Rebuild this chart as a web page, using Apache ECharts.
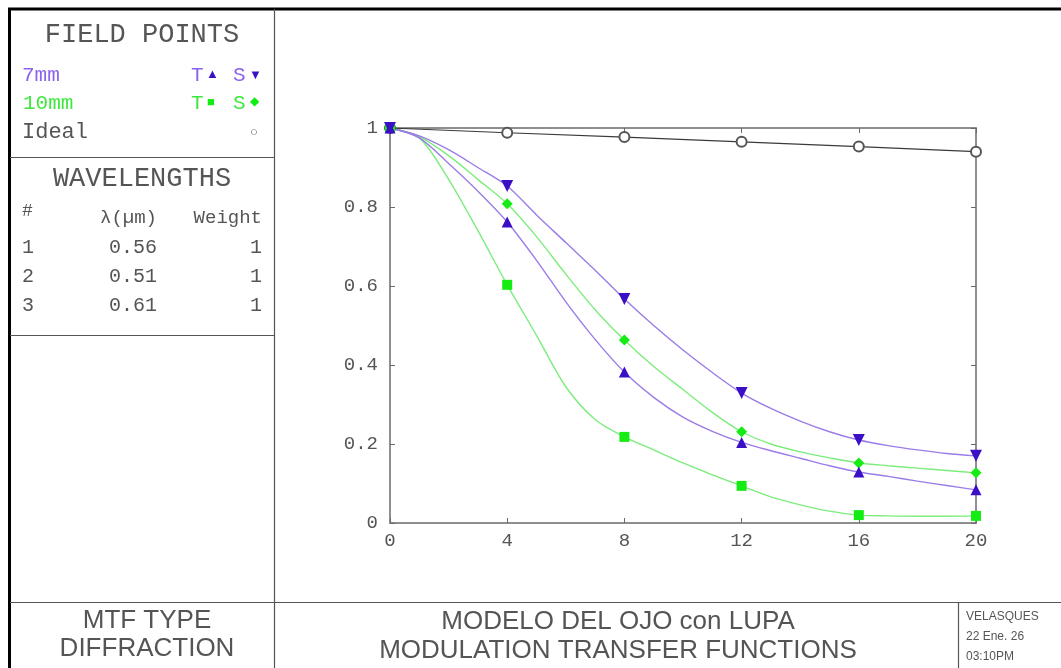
<!DOCTYPE html>
<html>
<head>
<meta charset="utf-8">
<script src="https://cdn.jsdelivr.net/npm/echarts@6/dist/echarts.min.js"></script>
<style>
  html, body { margin: 0; padding: 0; background: #fff; }
  #chart { width: 1061px; height: 668px; }
</style>
</head>
<body>
<div id="chart"></div>
<script>
// Spatial frequency (cycles/mm) sampled along the MTF curves
const frequencies = [0, 1, 2, 3, 4, 5, 6, 7, 8, 9, 10, 11, 12, 13, 14, 15, 16, 17, 18, 19, 20];
const xTicks = [0, 4, 8, 12, 16, 20];
const yTicks = [0, 0.2, 0.4, 0.6, 0.8, 1];

// Field 7 mm: tangential / sagittal modulation
const tan7mm = [1, 0.975, 0.91, 0.84, 0.762, 0.665, 0.56, 0.465, 0.382, 0.318, 0.268, 0.232, 0.204, 0.183, 0.164, 0.145, 0.129, 0.118, 0.106, 0.095, 0.084];
const sag7mm = [1, 0.98, 0.945, 0.9, 0.853, 0.78, 0.71, 0.64, 0.567, 0.5, 0.438, 0.381, 0.329, 0.29, 0.258, 0.231, 0.21, 0.196, 0.185, 0.176, 0.17];
// Field 10 mm: tangential / sagittal modulation
const tan10mm = [1, 0.975, 0.87, 0.74, 0.603, 0.475, 0.345, 0.262, 0.218, 0.185, 0.152, 0.122, 0.094, 0.066, 0.046, 0.03, 0.02, 0.018, 0.017, 0.017, 0.018];
const sag10mm = [1, 0.978, 0.93, 0.87, 0.808, 0.725, 0.63, 0.54, 0.463, 0.396, 0.338, 0.28, 0.231, 0.2, 0.18, 0.165, 0.152, 0.145, 0.139, 0.133, 0.127];
// Diffraction-limited reference
const idealFreq = [0, 4, 8, 12, 16, 20];
const idealMtf = [1, 0.988, 0.977, 0.965, 0.953, 0.94];

// Wavelength table
const waveIndex = ['1', '2', '3'];
const waveMicrons = ['0.56', '0.51', '0.61'];
const waveWeight = ['1', '1', '1'];

const PURPLE_LINE = '#9b7ce8';
const PURPLE_MARK = '#3b0fc6';
const GREEN_LINE = '#7ced7c';
const GREEN_MARK = '#14ec14';
const INK = '#555555';
const MONO = '"Liberation Mono", "DejaVu Sans Mono", monospace';
const SANS = '"Liberation Sans", Arial, sans-serif';

const DOWN_TRI = 'path://M0,0 L10,0 L5,9 Z';

function pairs(values) {
  return frequencies.map((f, i) => [f, values[i]]);
}
function markerPoints(values) {
  return frequencies.map((f, i) => [f, values[i]]).filter(p => xTicks.indexOf(p[0]) !== -1);
}
function curve(name, values, color) {
  return {
    name: name, type: 'line', data: pairs(values),
    smooth: 0.3, showSymbol: false, silent: true,
    lineStyle: { color: color, width: 1.4 }, z: 3
  };
}
function markers(name, values, symbol, size, color) {
  return {
    name: name, type: 'scatter', data: markerPoints(values),
    symbol: symbol, symbolSize: size, silent: true,
    itemStyle: { color: color, opacity: 1 }, z: 5
  };
}

function txt(text, x, y, opts) {
  opts = opts || {};
  return {
    type: 'text', z: 10, silent: true,
    style: {
      text: text, x: x, y: y,
      fill: opts.fill || INK,
      fontSize: opts.size || 20,
      fontFamily: opts.family || MONO,
      fontWeight: opts.weight || 'normal',
      align: opts.align || 'left', textAlign: opts.align || 'left',
      verticalAlign: 'middle', textVerticalAlign: 'middle'
    }
  };
}
function rule(x1, y1, x2, y2, color, width) {
  return {
    type: 'line', z: 10, silent: true,
    shape: { x1: x1, y1: y1, x2: x2, y2: y2 },
    style: { stroke: color, lineWidth: width }
  };
}

const graphics = [
  // outer frame and panel dividers
  rule(8, 9, 1061, 9, '#000', 3),
  rule(9.5, 8, 9.5, 668, '#000', 3),
  rule(274.5, 9, 274.5, 668, '#555', 1.2),
  rule(10, 157.5, 274, 157.5, '#555', 1.2),
  rule(10, 335.5, 274, 335.5, '#555', 1.2),
  rule(10, 602.5, 1061, 602.5, '#555', 1.2),
  rule(958.5, 602, 958.5, 668, '#555', 1.2),

  // field points key
  txt('FIELD POINTS', 142, 35, { size: 27, align: 'center' }),
  txt('7mm', 22, 75, { size: 21, fill: '#8a62ee' }),
  txt('T', 191, 75, { size: 21, fill: '#8a62ee' }),
  txt('▲', 206, 74, { size: 13, fill: PURPLE_MARK, family: SANS }),
  txt('S', 233, 75, { size: 21, fill: '#8a62ee' }),
  txt('▼', 249, 75, { size: 13, fill: PURPLE_MARK, family: SANS }),
  txt('10mm', 23, 103, { size: 21, fill: '#3fe83f' }),
  txt('T', 191, 103, { size: 21, fill: '#3fe83f' }),
  txt('■', 207, 102, { size: 13, fill: GREEN_MARK, family: SANS }),
  txt('S', 233, 103, { size: 21, fill: '#3fe83f' }),
  txt('◆', 250, 102, { size: 12, fill: GREEN_MARK, family: SANS }),
  txt('Ideal', 22, 132, { size: 22 }),
  txt('○', 250, 132, { size: 13, family: SANS }),

  // wavelength table
  txt('WAVELENGTHS', 142, 179, { size: 27, align: 'center' }),
  txt('#', 22, 211, { size: 18 }),
  txt('λ(µm)', 157, 218, { size: 19, align: 'right' }),
  txt('Weight', 262, 218, { size: 19, align: 'right' })
];
waveIndex.forEach((n, i) => {
  const y = 248 + i * 29;
  graphics.push(txt(n, 22, y, { size: 20 }));
  graphics.push(txt(waveMicrons[i], 157, y, { size: 20, align: 'right' }));
  graphics.push(txt(waveWeight[i], 262, y, { size: 20, align: 'right' }));
});
graphics.push(
  txt('MTF TYPE', 147, 621, { size: 26, family: SANS, align: 'center' }),
  txt('DIFFRACTION', 147, 649, { size: 26, family: SANS, align: 'center' }),
  txt('MODELO DEL OJO con LUPA', 618, 622, { size: 26, family: SANS, align: 'center' }),
  txt('MODULATION TRANSFER FUNCTIONS', 618, 651, { size: 26, family: SANS, align: 'center' }),
  txt('VELASQUES', 966, 617, { size: 12, family: SANS }),
  txt('22 Ene. 26', 966, 637, { size: 12, family: SANS }),
  txt('03:10PM', 966, 657, { size: 12, family: SANS })
);

const axisLine = { show: true, onZero: false, lineStyle: { color: '#6a6a6a', width: 1.5 } };
const innerTick = { show: true, inside: true, length: 5, lineStyle: { color: '#6a6a6a', width: 1 } };
const tickLabel = { color: '#555', fontSize: 19, fontFamily: MONO };

const chart = echarts.init(document.getElementById('chart'), null, { renderer: 'canvas' });
chart.setOption({
  animation: false,
  backgroundColor: '#fff',
  grid: { left: 390, top: 128, right: 85, bottom: 145 },
  xAxis: [
    { type: 'value', position: 'bottom', min: xTicks[0], max: xTicks[xTicks.length - 1], interval: 4,
      axisLine: axisLine, axisTick: innerTick, splitLine: { show: false },
      axisLabel: Object.assign({ margin: 8 }, tickLabel) },
    { type: 'value', position: 'top', min: xTicks[0], max: xTicks[xTicks.length - 1], interval: 4,
      axisLine: axisLine, axisTick: innerTick, splitLine: { show: false }, axisLabel: { show: false } }
  ],
  yAxis: [
    { type: 'value', position: 'left', min: yTicks[0], max: yTicks[yTicks.length - 1], interval: 0.2,
      axisLine: axisLine, axisTick: innerTick, splitLine: { show: false },
      axisLabel: Object.assign({ margin: 12 }, tickLabel) },
    { type: 'value', position: 'right', min: yTicks[0], max: yTicks[yTicks.length - 1], interval: 0.2,
      axisLine: axisLine, axisTick: innerTick, splitLine: { show: false }, axisLabel: { show: false } }
  ],
  series: [
    {
      name: 'Ideal', type: 'line', data: idealFreq.map((f, i) => [f, idealMtf[i]]),
      symbol: 'emptyCircle', symbolSize: 10, showAllSymbol: true, silent: true,
      lineStyle: { color: '#3a3a3a', width: 1.2 },
      itemStyle: { color: '#555', borderColor: '#555', borderWidth: 1.2 }, z: 4
    },
    curve('10mm T', tan10mm, GREEN_LINE),
    curve('10mm S', sag10mm, GREEN_LINE),
    curve('7mm T', tan7mm, PURPLE_LINE),
    curve('7mm S', sag7mm, PURPLE_LINE),
    markers('10mm T', tan10mm, 'rect', 10, GREEN_MARK),
    markers('10mm S', sag10mm, 'diamond', 11, GREEN_MARK),
    markers('7mm T', tan7mm, 'triangle', 11, PURPLE_MARK),
    markers('7mm S', sag7mm, DOWN_TRI, 12, PURPLE_MARK)
  ],
  graphic: graphics
});
</script>
</body>
</html>
